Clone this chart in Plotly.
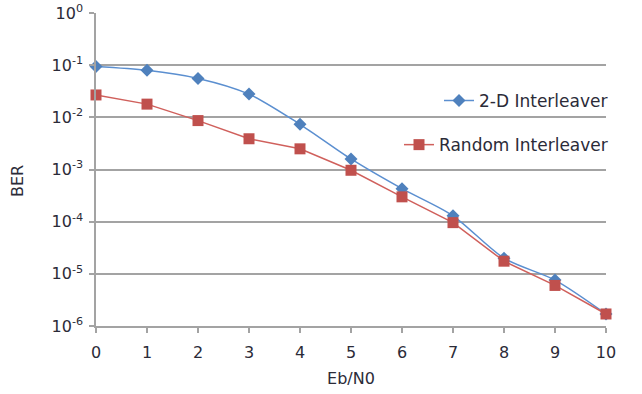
import plotly.graph_objects as go

ebn0 = [0, 1, 2, 3, 4, 5, 6, 7, 8, 9, 10]
ber_2d = [0.095, 0.080, 0.056, 0.028, 0.0074, 0.0016, 4.3e-4, 1.3e-4, 2.0e-5, 7.6e-6, 1.7e-6]
ber_random = [0.027, 0.018, 0.0087, 0.0039, 0.0025, 0.00097, 3.0e-4, 9.6e-5, 1.75e-5, 6.0e-6, 1.7e-6]
y_tickvals = [1e0, 1e-1, 1e-2, 1e-3, 1e-4, 1e-5, 1e-6]
y_ticktext = ["10<sup>0</sup>", "10<sup>-1</sup>", "10<sup>-2</sup>", "10<sup>-3</sup>",
              "10<sup>-4</sup>", "10<sup>-5</sup>", "10<sup>-6</sup>"]

FONT = "DejaVu Sans"
TXT = "#2b2b38"
GRID = "#a3a3a3"

fig = go.Figure()
fig.add_trace(go.Scatter(
    x=ebn0, y=ber_2d, name="2-D Interleaver", mode="lines+markers",
    line=dict(color="#5b8fd0", width=1.5, shape="spline", smoothing=0.8),
    marker=dict(symbol="diamond", size=10, color="#4f81bd"),
    cliponaxis=False, legend="legend", showlegend=True))
fig.add_trace(go.Scatter(
    x=ebn0, y=ber_random, name="Random Interleaver", mode="lines+markers",
    line=dict(color="#d0605c", width=1.5),
    marker=dict(symbol="square", size=11, color="#c0504d"),
    cliponaxis=False, legend="legend2", showlegend=True))

fig.update_layout(
    width=642, height=394,
    margin=dict(l=96, r=36, t=13, b=68, autoexpand=False),
    paper_bgcolor="white", plot_bgcolor="white",
    showlegend=True,
    font=dict(family=FONT, size=15, color=TXT),
    legend=dict(x=(439 - 96) / 510, y=0.719, xanchor="left", yanchor="middle",
                bgcolor="rgba(0,0,0,0)", font=dict(size=17, color=TXT)),
    legend2=dict(x=(399 - 96) / 510, y=0.578, xanchor="left", yanchor="middle",
                 bgcolor="rgba(0,0,0,0)", font=dict(size=17, color=TXT)),
    xaxis=dict(
        range=[0, 10], tickmode="array", tickvals=ebn0,
        showgrid=False, zeroline=False, automargin=False,
        showline=True, linecolor=GRID, linewidth=1.5,
        ticks="outside", ticklen=5, tickcolor=GRID, tickwidth=1.5,
        ticklabelstandoff=6,
        tickfont=dict(size=16, color=TXT),
        title=dict(text="Eb/N0", font=dict(size=16, color=TXT), standoff=12)),
    yaxis=dict(
        type="log", range=[-6, 0.003], tickmode="array",
        tickvals=y_tickvals, ticktext=y_ticktext,
        showgrid=True, gridcolor=GRID, gridwidth=1.5, zeroline=False,
        automargin=False,
        showline=True, linecolor=GRID, linewidth=1.5,
        ticks="outside", ticklen=5, tickcolor=GRID, tickwidth=1.5,
        ticklabelstandoff=3,
        tickfont=dict(size=16, color=TXT)),
    annotations=[dict(text="BER", textangle=-90, xref="paper", yref="paper",
                      x=(17 - 96) / 510, y=(326 - 181) / 313,
                      xanchor="center", yanchor="middle", showarrow=False,
                      font=dict(size=16, color=TXT))],
)

fig.write_html("out.html")
